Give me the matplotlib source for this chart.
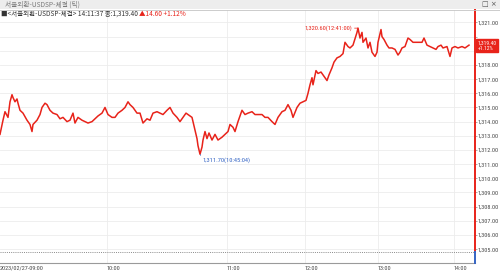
import matplotlib
matplotlib.use("Agg")
import matplotlib.pyplot as plt
import matplotlib.transforms as mtransforms
from matplotlib import font_manager
from matplotlib.font_manager import FontProperties
import numpy as np

# ---------------- data ----------------
tick_pos = [0, 3, 5, 8, 10, 12, 13, 15, 17, 18, 20, 23, 27, 30, 32, 33, 37, 40, 42, 45,
            47, 50, 53, 57, 60, 63, 67, 70, 73, 75, 78, 82, 85, 88, 92, 95, 98, 102, 105, 108,
            112, 115, 118, 122, 125, 128, 130, 133, 137, 140, 143, 147, 150, 153, 157, 160, 163, 167, 170, 173,
            177, 180, 183, 186, 188, 192, 195, 197, 198, 200, 202, 203, 205, 207, 209, 212, 215, 218, 222, 225,
            228, 230, 233, 235, 238, 242, 245, 248, 252, 255, 258, 262, 265, 268, 272, 275, 278, 282, 285, 288,
            291, 293, 297, 300, 303, 306, 308, 310, 312, 313, 316, 318, 321, 323, 327, 329, 332, 334, 337, 340,
            343, 345, 348, 350, 353, 357, 358, 360, 362, 363, 366, 368, 370, 372, 375, 377, 378, 381, 382, 384,
            387, 389, 392, 395, 398, 400, 402, 405, 408, 410, 413, 417, 419, 422, 424, 427, 430, 433, 436, 438,
            441, 443, 447, 450, 452, 455, 458, 462, 465, 469]
prices = [1313.1, 1314.1, 1314.7, 1314.3, 1315.4, 1315.9, 1315.7, 1315.4, 1315.6, 1315.3,
          1314.8, 1314.6, 1314.1, 1313.8, 1313.3, 1313.8, 1314.1, 1314.5, 1315.0, 1315.3,
          1315.2, 1314.8, 1314.6, 1314.5, 1314.2, 1314.3, 1314.0, 1314.1, 1314.6, 1313.9,
          1314.3, 1314.1, 1314.0, 1313.9, 1314.0, 1314.2, 1314.4, 1314.6, 1315.0, 1314.5,
          1314.3, 1314.3, 1314.6, 1314.8, 1315.0, 1315.4, 1315.2, 1315.0, 1314.6, 1314.6,
          1313.9, 1314.2, 1314.1, 1314.6, 1314.7, 1314.6, 1314.5, 1314.8, 1315.0, 1314.6,
          1314.3, 1314.0, 1314.3, 1314.6, 1314.5, 1314.3, 1313.4, 1312.8, 1312.3, 1311.7,
          1312.2, 1312.7, 1313.3, 1312.8, 1313.2, 1312.7, 1313.1, 1312.7, 1312.9, 1313.1,
          1313.3, 1313.8, 1313.6, 1313.3, 1314.0, 1314.8, 1314.5, 1314.6, 1314.7, 1314.5,
          1314.5, 1314.5, 1314.3, 1314.3, 1314.0, 1313.8, 1314.3, 1314.7, 1314.8, 1315.2,
          1314.8, 1314.3, 1315.0, 1315.3, 1315.4, 1315.5, 1316.0, 1316.6, 1317.1, 1316.6,
          1317.6, 1317.4, 1317.5, 1317.3, 1316.9, 1317.3, 1317.8, 1318.2, 1318.5, 1318.6,
          1318.8, 1319.6, 1319.3, 1319.2, 1319.4, 1320.3, 1320.6, 1319.9, 1320.3, 1319.6,
          1319.9, 1319.2, 1319.6, 1318.9, 1318.6, 1318.9, 1319.6, 1320.5, 1320.0, 1319.8,
          1319.4, 1319.2, 1319.2, 1319.1, 1318.7, 1318.9, 1319.2, 1319.3, 1319.9, 1319.8,
          1319.6, 1319.6, 1319.6, 1319.6, 1319.9, 1319.4, 1319.3, 1319.2, 1319.1, 1319.3,
          1319.4, 1319.2, 1319.3, 1318.6, 1319.2, 1319.3, 1319.2, 1319.3, 1319.2, 1319.4]
xtick_pos = [0, 107, 227, 305, 378, 454]
xtick_labels = ["2023/02/27-09:00", "10:00", "11:00", "12:00", "13:00", "14:00"]
ytick_vals = list(range(1305, 1322))
prev_close = 1304.80
last_price = 1319.40
change = 14.60
change_pct = 1.12
high_time = "12:41:00"
low_time = "10:45:04"
chart_title = "서울외환-USDSP-체결 (틱)"
legend_name = "<서울외환-USDSP-체결>"
last_time = "14:11:37"

# ---------------- fonts ----------------
entries = font_manager.fontManager.ttflist
names = {f.name for f in entries}
cjk = None
for n in ["Noto Sans CJK KR", "Noto Sans CJK JP", "Noto Sans CJK SC", "Noto Sans CJK TC"]:
    if n in names:
        cjk = n
        break
if cjk is None:
    for f in entries:
        if f.name.startswith("Noto Sans CJK"):
            cjk = f.name
            break

narrow_file = None
for f in entries:
    if ("Narrow" in f.fname or "Condensed" in f.fname) and "Bold" not in f.fname \
            and "Italic" not in f.fname and "Oblique" not in f.fname:
        narrow_file = f.fname
        if "Liberation" in f.fname:
            break

scale = 1.0 if narrow_file else 0.84


def numfont(size):
    if narrow_file:
        return FontProperties(fname=narrow_file, size=size * scale)
    return FontProperties(family="DejaVu Sans", size=size * scale)


tick_fp = numfont(4.4)
ann_fp = numfont(4.6)
box_fp = numfont(4.0)

fam = ["DejaVu Sans"]
if cjk:
    fam = [cjk, "DejaVu Sans"]
plt.rcParams['font.family'] = fam

RED = "#e8231a"
BLUE = "#3464c4"
GRID = "#ececec"
TXT = "#444444"

fig = plt.figure(figsize=(5.0, 2.74), dpi=100)
ax = fig.add_axes([0.0, 1 - 263 / 274, 475 / 500, (263 - 10) / 274])

ax.plot(tick_pos, prices, color=RED, lw=1.1, zorder=3)

ax.set_xlim(0, 475)
ax.set_ylim(1304.02, 1321.88)

# grid
for v in ytick_vals:
    ax.axhline(v, color=GRID, lw=0.6, zorder=0)
for x in xtick_pos[1:]:
    ax.axvline(x, color=GRID, lw=0.6, zorder=0)

# previous close dotted line
ax.axhline(prev_close, color="#8a8a8a", lw=0.7, ls=(0, (1, 1.2)), zorder=1)

# spines
for s in ["top", "left", "right"]:
    ax.spines[s].set_visible(False)
ax.spines["bottom"].set_color("#9a9a9a")
ax.spines["bottom"].set_linewidth(0.8)

# right axis line red above prev close, blue below
tr = mtransforms.blended_transform_factory(ax.transAxes, ax.transData)
ylo, yhi = ax.get_ylim()
ax.plot([1, 1], [prev_close, yhi], transform=tr, color=RED, lw=1.4, clip_on=False, zorder=5)
ax.plot([1, 1], [ylo, prev_close], transform=tr, color=BLUE, lw=1.4, clip_on=False, zorder=5)

# y ticks on right (the label under the current-price box is hidden, as in the source)
ax.yaxis.tick_right()
ax.set_yticks(ytick_vals)
ax.set_yticklabels([f"{v:,.2f}" if abs(v - last_price) >= 0.6 else "" for v in ytick_vals])
ax.tick_params(axis="y", length=1.5, width=0.5, color="#888888", pad=0.6, labelcolor=TXT)
for lab in ax.get_yticklabels():
    lab.set_fontproperties(tick_fp)

# x ticks
ax.set_xticks(xtick_pos)
ax.set_xticklabels(xtick_labels)
for lab in ax.get_xticklabels():
    lab.set_horizontalalignment("left")
    lab.set_fontproperties(tick_fp)
ax.tick_params(axis="x", length=0, pad=2, labelcolor=TXT)

# high / low annotations
i_hi = int(np.argmax(prices))
i_lo = int(np.argmin(prices))
ax.annotate(f"{prices[i_hi]:,.2f}({high_time})", xy=(tick_pos[i_hi], prices[i_hi]),
            xytext=(-4.5, 0), textcoords="offset points", ha="right", va="center",
            color=RED, fontproperties=ann_fp,
            arrowprops=dict(arrowstyle="-", color=RED, lw=0.5, shrinkA=0, shrinkB=0), zorder=6)
ax.annotate(f"{prices[i_lo]:,.2f}({low_time})", xy=(tick_pos[i_lo], prices[i_lo]),
            xytext=(2, -4.5), textcoords="offset points", ha="left", va="center",
            color=BLUE, fontproperties=ann_fp,
            arrowprops=dict(arrowstyle="-", color=BLUE, lw=0.5, shrinkA=0, shrinkB=0,
                            connectionstyle="angle,angleA=180,angleB=90,rad=0"), zorder=6)

# current price box on right axis
ax.text(1.006, last_price - 0.05, f"{last_price:,.2f}\n+{change_pct:.2f}%", transform=tr,
        ha="left", va="center", color="white", linespacing=1.0, fontproperties=box_fp,
        bbox=dict(boxstyle="square,pad=0.25", fc=RED, ec=RED), clip_on=False, zorder=10)

# title bar
fig.patches.append(plt.Rectangle((0, 1 - 9 / 274), 1, 9 / 274, transform=fig.transFigure,
                                 fc="#ededed", ec="none", zorder=0))
fig.lines.append(plt.Line2D([0, 1], [1 - 9.5 / 274] * 2, transform=fig.transFigure,
                            color="#c4c4c4", lw=0.6))
fig.text(5 / 500, 1 - 4.5 / 274, chart_title, fontsize=4.8, color="#7a7a7a", va="center", ha="left")
fig.text(497 / 500, 1 - 4.5 / 274, "□ ×", fontsize=5, color="#555555", va="center", ha="right",
         family=["DejaVu Sans"])

# legend line
t1 = fig.text(1 / 500, 1 - 13.5 / 274, "■" + legend_name + f" {last_time} 종:{last_price:,.2f} ",
              fontsize=4.7, color="#333333", va="center", ha="left")
fig.canvas.draw()
bb = t1.get_window_extent()
fig.text(bb.x1 / fig.bbox.width, 1 - 13.5 / 274, f"▲{change:.2f} +{change_pct:.2f}%",
         fontsize=4.7, color=RED, va="center", ha="left", family=fam)

fig.savefig("out.png", dpi=100)
